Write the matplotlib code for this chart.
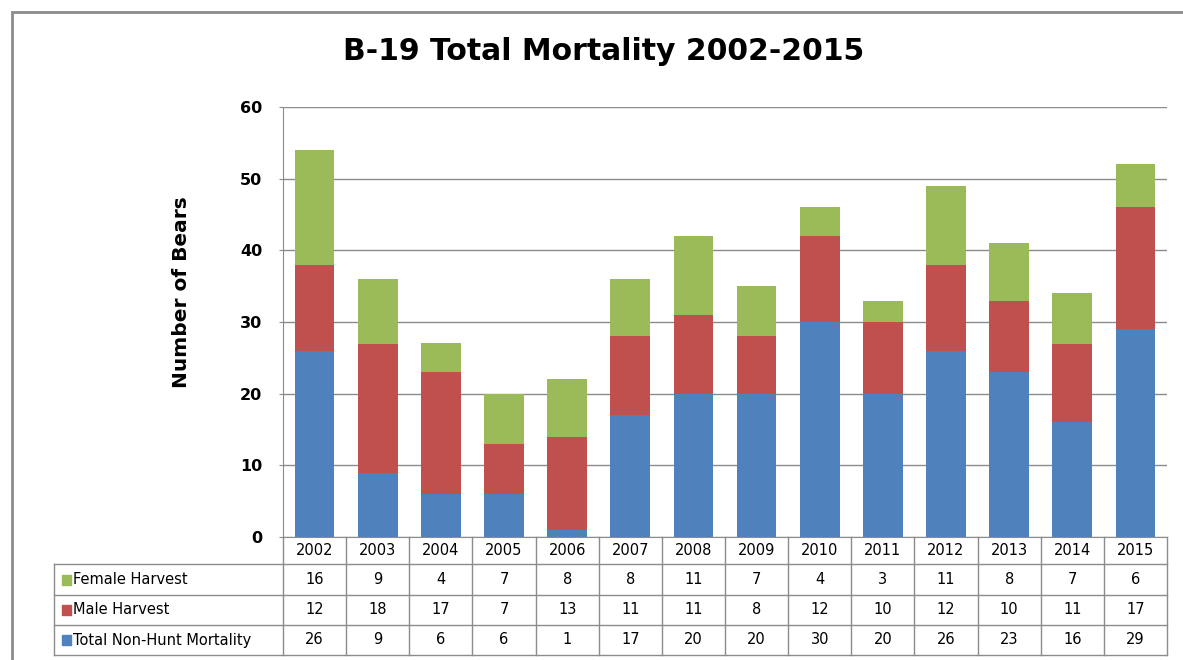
import numpy as np
import matplotlib.pyplot as plt
import matplotlib.transforms as mtransforms
from matplotlib.patches import Rectangle

years = ["2002", "2003", "2004", "2005", "2006", "2007", "2008",
         "2009", "2010", "2011", "2012", "2013", "2014", "2015"]
female_harvest = [16, 9, 4, 7, 8, 8, 11, 7, 4, 3, 11, 8, 7, 6]
male_harvest = [12, 18, 17, 7, 13, 11, 11, 8, 12, 10, 12, 10, 11, 17]
non_hunt = [26, 9, 6, 6, 1, 17, 20, 20, 30, 20, 26, 23, 16, 29]

series_names = ["Female Harvest", "Male Harvest", "Total Non-Hunt Mortality"]
series_vals = [female_harvest, male_harvest, non_hunt]
colors = ["#9BBB59", "#C0504D", "#4F81BD"]
grid_col = "#8C8C8C"

W, H = 1183, 660
fig = plt.figure(figsize=(W / 100, H / 100), dpi=100)

# outer chart frame (runs off right/bottom edge)
fig.patches.append(Rectangle((12 / W, -0.05), 1.1, 1 - 12 / H + 0.05,
                             transform=fig.transFigure, fill=False,
                             edgecolor="#8C8C8C", lw=2, zorder=0))

ax = fig.add_axes([283 / W, (H - 537) / H, 884 / W, 430 / H])
x = np.arange(len(years))
bw = 0.63
ax.bar(x, non_hunt, bw, color=colors[2], zorder=3)
ax.bar(x, male_harvest, bw, bottom=non_hunt, color=colors[1], zorder=3)
ax.bar(x, female_harvest, bw,
       bottom=np.array(non_hunt) + np.array(male_harvest),
       color=colors[0], zorder=3)

ax.set_xlim(-0.5, len(years) - 0.5)
ax.set_ylim(0, 60)
ax.set_yticks(range(0, 61, 10))
ax.yaxis.grid(True, color=grid_col, lw=1, zorder=0)
ax.set_xticks([])
for s in ["top", "right"]:
    ax.spines[s].set_visible(False)
ax.spines["left"].set_color(grid_col)
ax.spines["bottom"].set_color(grid_col)
ax.tick_params(axis="y", length=3, color=grid_col, pad=12)
for lbl in ax.get_yticklabels():
    lbl.set_fontsize(11.5)
    lbl.set_fontweight("bold")
ax.set_ylabel("Number of Bears", fontsize=14.5, fontweight="bold")
ax.yaxis.set_label_coords((191 - 283) / 884, (537 - 292) / 430)

fig.text(0.51, 1 - 52 / H, "B-19 Total Mortality 2002-2015",
         ha="center", va="center", fontsize=21.5, fontweight="bold")

# data table under the plot
trans = mtransforms.blended_transform_factory(ax.transData, ax.transAxes)
px = lambda p: -(p - 537) / 430.0
row_lines = [px(564), px(595), px(625), px(655)]
row_centers = [px(579.5), px(610), px(640)]
left_ax = (54 - 283) / 884.0

for k in range(len(years) + 1):
    ax.plot([k - 0.5, k - 0.5], [0, row_lines[-1]], transform=trans,
            color=grid_col, lw=1, clip_on=False)
for yl in row_lines:
    ax.plot([left_ax, 1], [yl, yl], transform=ax.transAxes,
            color=grid_col, lw=1, clip_on=False)
ax.plot([left_ax, left_ax], [row_lines[0], row_lines[-1]],
        transform=ax.transAxes, color=grid_col, lw=1, clip_on=False)

for i, yr in enumerate(years):
    ax.text(i, px(550.5), yr, transform=trans, ha="center", va="center",
            fontsize=10.5)
for r, (name, vals, c) in enumerate(zip(series_names, series_vals, colors)):
    yc = row_centers[r]
    ax.add_patch(Rectangle((left_ax + 8 / 884, yc - 5 / 430), 9 / 884, 10 / 430,
                           transform=ax.transAxes, color=c, clip_on=False))
    ax.text(left_ax + 19 / 884, yc, name, transform=ax.transAxes,
            ha="left", va="center", fontsize=10.5)
    for i, v in enumerate(vals):
        ax.text(i, yc, str(v), transform=trans, ha="center", va="center",
                fontsize=10.5)

fig.savefig("out.png", dpi=100)
